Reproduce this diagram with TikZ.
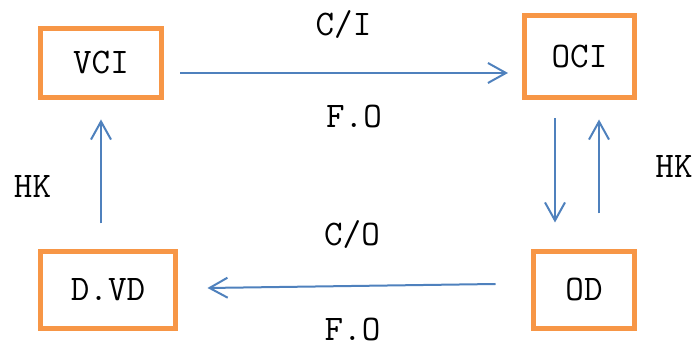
\documentclass[tikz,border=0pt]{standalone}
\usetikzlibrary{arrows.meta}
\definecolor{boxorange}{HTML}{F79646}
\definecolor{flowblue}{HTML}{4F81BD}
\begin{document}
\begin{tikzpicture}[x=0.5pt, y=-0.5pt,
	state/.style = {draw=boxorange, line width=2.5pt, inner sep=0pt, font=\fontsize{18}{21}\ttfamily},
	flow/.style = {draw=flowblue, line width=1pt, -{Straight Barb[length=9pt,width=10pt]}},
	lbl/.style = {font=\fontsize{18}{21}\ttfamily, inner sep=0pt}]
	\useasboundingbox (0,0) rectangle (695,346);
	\node [state, minimum width=60.5pt, minimum height=34.5pt] (vci) at (101,63) {VCI};
	\node [state, minimum width=55pt, minimum height=41pt] (oci) at (579.5,56.5) {OCI};
	\node [state, minimum width=67.5pt, minimum height=38.5pt] (dvd) at (108,290) {D.VD};
	\node [state, minimum width=50.5pt, minimum height=38.5pt] (od) at (584,290) {OD};
	% arrows
	\draw [flow] ([shift={(16,10)}]vci.east) -- ([shift={(-14,16.5)}]oci.west);
	\draw [flow] ([shift={(-35.5,-6)}]od.west) -- ([shift={(29.5,-2)}]dvd.east);
	\draw [flow] ([shift={(-7,-25.5)}]dvd.north) -- ([shift={(0,19.5)}]vci.south);
	\draw [flow] ([shift={(-24.5,18.5)}]oci.south) -- ([shift={(-29,-26.5)}]od.north);
	\draw [flow] ([shift={(15,-35.5)}]od.north) -- ([shift={(19.5,19.5)}]oci.south);
	% labels
	\node [lbl] (ci) at (343.5,25) {C/I};
	\node [lbl] (fotop) at (354,117) {F.O};
	\node [lbl] (hkleft) at (32.5,187) {HK};
	\node [lbl] (hkright) at (674,167) {HK};
	\node [lbl] (co) at (352,235) {C/O};
	\node [lbl] (fobot) at (352.5,330) {F.O};
\end{tikzpicture}
\end{document}
